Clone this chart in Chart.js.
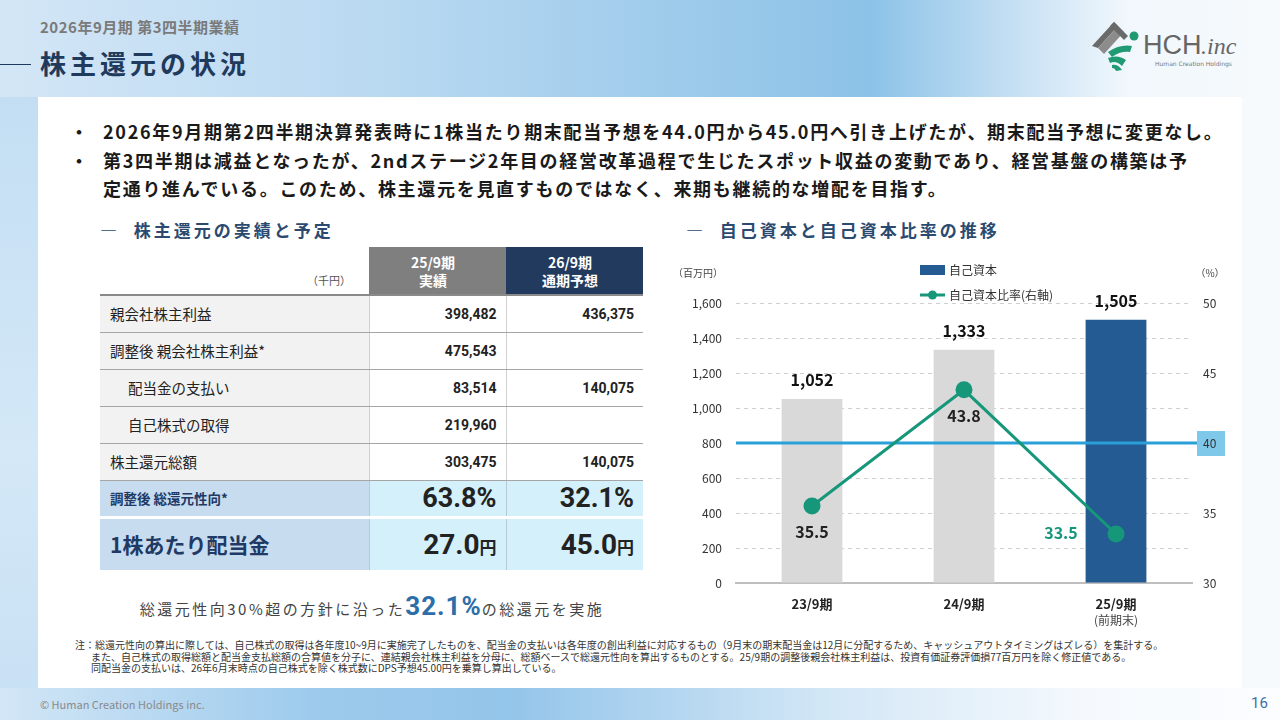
<!DOCTYPE html>
<html lang="ja">
<head>
<meta charset="utf-8">
<title>株主還元の状況</title>
<script src="https://cdn.jsdelivr.net/npm/chart.js@4.4.1/dist/chart.umd.min.js"></script>
<style>
  html, body { margin: 0; padding: 0; }
  body {
    width: 1280px; height: 720px; position: relative; overflow: hidden;
    font-family: "Noto Sans CJK JP", "Noto Sans", sans-serif;
    background: #c7e0f4;
  }
  .band-top {
    position: absolute; left: 0; top: 0; width: 1280px; height: 97px;
    background: linear-gradient(to right, #d3e6f6 0%, #b9d9f1 30%, #8cc2e7 68%, #c9e2f4 80%, #f1f7fc 88%, #f6fafd 100%);
  }
  .band-bottom {
    position: absolute; left: 0; top: 688px; width: 1280px; height: 32px;
    background: linear-gradient(to right, #d2e6f6 0%, #9ccaec 25%, #94c5ea 40%, #d3e7f6 65%, #f5f9fd 85%, #fbfdff 100%);
  }
  .band-left {
    position: absolute; left: 0; top: 97px; width: 38px; height: 591px;
    background: linear-gradient(to bottom, #c3def3, #d4e8f7 60%, #c9e1f4);
  }
  .band-right {
    position: absolute; left: 1242px; top: 97px; width: 38px; height: 591px;
    background: #f6fafd;
  }
  .panel {
    position: absolute; left: 38px; top: 97px; width: 1204px; height: 591px; background: #fff;
  }
  .sub { position: absolute; left: 40px; top: 16px; font-size: 15px; font-weight: 700; color: #7a7a7a; letter-spacing: 0.5px; }
  .title { position: absolute; left: 40px; top: 44px; font-size: 26px; font-weight: 700; color: #1f3a5c; letter-spacing: 4px; }
  .title-line { position: absolute; left: 0; top: 64px; width: 31px; height: 1px; background: #1f3a5c; }
  .bullets { position: absolute; left: 70px; top: 117px; font-size: 18px; font-weight: 700; color: #1a1a1a; line-height: 28.5px; letter-spacing: 1.7px; }
  .bullets .b { position: relative; padding-left: 33px; white-space: nowrap; }
  .bullets .b::before { content: "・"; position: absolute; left: 0; }
  .sec { position: absolute; font-size: 17px; font-weight: 700; color: #2b4a70; letter-spacing: 3px; white-space: nowrap; }
  table.ret {
    position: absolute; left: 100px; top: 247px; border-collapse: collapse; table-layout: fixed;
    font-size: 14.5px; color: #222;
  }
  table.ret td { padding: 0; height: 37px; border-bottom: 1px solid #a6a6a6; }
  table.ret td.lab { width: 269px; background: #f2f2f2; padding-left: 10px; box-sizing: border-box; }
  table.ret td.lab.ind { padding-left: 28px; }
  table.ret td.val { width: 137px; text-align: right; padding-right: 9px; box-sizing: border-box; font-weight: 700; border-left: 1px solid #d0d0d0; font-family: Roboto, "Noto Sans CJK JP", sans-serif; font-size: 14px; }
  table.ret tr.head td { height: 48px; border-bottom: 2px solid #8a8a8a; }
  table.ret tr.head td.unit { background: #fff; text-align: right; padding-right: 18px; font-size: 11px; color: #555; vertical-align: bottom; padding-bottom: 6px; }
  table.ret tr.head td.h1 { background: #7f7f7f; color: #fff; text-align: center; font-weight: 700; line-height: 18px; border-left: none; font-family: "Noto Sans CJK JP", sans-serif; }
  table.ret tr.head td.h2 { background: #223a5e; color: #fff; text-align: center; font-weight: 700; line-height: 18px; border-left: none; font-family: "Noto Sans CJK JP", sans-serif; }
  table.ret tr.hl td { border-bottom: 3px solid #fff; }
  table.ret tr.hl td.lab { background: #c8dcf0; color: #1f3a64; font-weight: 700; }
  table.ret tr.hl td.val { background: #d3f0fb; font-size: 27px; border-left: 1px solid #b8c8d4; }
  table.ret tr.hl.r1 td { height: 37px; }
  table.ret tr.hl.r1 td.lab { font-size: 13.5px; }
  table.ret tr.hl.r2 td { height: 53px; border-bottom: none; }
  table.ret tr.hl.r2 td.lab { font-size: 21px; }
  table.ret tr.hl.r2 td.val { font-size: 28px; }
  table.ret tr.hl.r2 td.val small { font-size: 17px; }
  .caption { position: absolute; left: 100px; width: 544px; top: 591px; text-align: center; color: #444; font-size: 15px; letter-spacing: 2.5px; white-space: nowrap; }
  .caption b { font-size: 26px; color: #2d6eaa; letter-spacing: 1px; font-family: Roboto, sans-serif; }
  .notes { position: absolute; left: 75px; top: 639px; font-size: 10px; color: #333; line-height: 11.5px; white-space: nowrap; }
  .notes div.c { padding-left: 16px; }
  .copy { position: absolute; left: 40px; top: 696px; font-size: 11px; color: #8a8a8a; }
  .page { position: absolute; left: 1251px; top: 694px; font-size: 15px; color: #3f6fa6; font-family: Roboto, sans-serif; }
  .chartbox { position: absolute; left: 680px; top: 258px; width: 560px; height: 372px; }
  .logo { position: absolute; left: 1088px; top: 16px; }
</style>
</head>
<body>
<div class="band-top"></div>
<div class="band-bottom"></div>
<div class="band-left"></div>
<div class="band-right"></div>
<div class="panel"></div>

<div class="sub">2026年9月期 第3四半期業績</div>
<div class="title-line"></div>
<div class="title">株主還元の状況</div>

<svg class="logo" width="172" height="56" viewBox="0 0 172 56">
  <polygon points="4,30 26,6 30,10 10,32" fill="#6a6a6a"/>
  <polygon points="10,32 30,10 36,16 16,38" fill="#8c8c8c"/>
  <polygon points="26,6 40,20 36,24 22,10" fill="#6a6a6a"/>
  <path d="M20,36 Q32,28 44,30 L42,36 Q32,35 24,41 Z" fill="#1f9a73"/>
  <path d="M20,42 Q30,38 38,44 L34,50 Q28,44 22,47 Z" fill="#1f9a73"/>
  <path d="M24,49 Q30,48 34,54 L28,55 Q27,52 24,52 Z" fill="#1f9a73"/>
  <circle cx="46" cy="20" r="4.5" fill="#1f9a73"/>
  <text x="55" y="38" font-family="Liberation Sans, Arial, sans-serif" font-size="27" fill="#666">HCH</text>
  <text x="113" y="38" font-family="Liberation Serif, serif" font-style="italic" font-size="24" fill="#666">.inc</text>
  <text x="67" y="50" font-family="DejaVu Sans, sans-serif" font-size="6" fill="#777">Human Creation Holdings</text>
</svg>

<div class="bullets">
  <div class="b">2026年9月期第2四半期決算発表時に1株当たり期末配当予想を44.0円から45.0円へ引き上げたが、期末配当予想に変更なし。</div>
  <div class="b">第3四半期は減益となったが、2ndステージ2年目の経営改革過程で生じたスポット収益の変動であり、経営基盤の構築は予<br>定通り進んでいる。このため、株主還元を見直すものではなく、来期も継続的な増配を目指す。</div>
</div>

<div class="sec" style="left:100px; top:217px;">—&nbsp;&nbsp;株主還元の実績と予定</div>
<div class="sec" style="left:686px; top:217px;">—&nbsp;&nbsp;自己資本と自己資本比率の推移</div>

<table class="ret" id="ret"></table>

<div class="caption">総還元性向30%超の方針に沿った<b>32.1%</b>の総還元を実施</div>

<div class="chartbox"><canvas id="c"></canvas></div>

<div class="notes">
  <div>注：総還元性向の算出に際しては、自己株式の取得は各年度10~9月に実施完了したものを、配当金の支払いは各年度の創出利益に対応するもの（9月末の期末配当金は12月に分配するため、キャッシュアウトタイミングはズレる）を集計する。</div>
  <div class="c">また、自己株式の取得総額と配当金支払総額の合算値を分子に、連結親会社株主利益を分母に、総額ベースで総還元性向を算出するものとする。25/9期の調整後親会社株主利益は、投資有価証券評価損77百万円を除く修正値である。</div>
  <div class="c">同配当金の支払いは、26年6月末時点の自己株式を除く株式数にDPS予想45.00円を乗算し算出している。</div>
</div>

<div class="copy">© Human Creation Holdings inc.</div>
<div class="page">16</div>

<script>
// ---- table data ----
const tableLabels = ['親会社株主利益', '調整後 親会社株主利益*', '配当金の支払い', '自己株式の取得', '株主還元総額'];
const tableIndented = [false, false, true, true, false];
const actual2509 = ['398,482', '475,543', '83,514', '219,960', '303,475'];
const forecast2609 = ['436,375', '', '140,075', '', '140,075'];
const payoutRatio = ['63.8%', '32.1%'];
const dividendPerShare = ['27.0', '45.0'];

// ---- chart data ----
const categories = ['23/9期', '24/9期', '25/9期'];
const categoryNotes = ['', '', '(前期末)'];
const equity = [1052, 1333, 1505];          // 百万円
const equityRatio = [35.5, 43.8, 33.5];     // %
const equityTicks = [0, 1600, 200];         // min, max, step
const ratioTicks = [30, 50, 5];
const ratioTarget = 40;

// build table
(function () {
  const t = document.getElementById('ret');
  let html = '<tr class="head"><td class="lab unit">（千円）</td>' +
    '<td class="val h1">25/9期<br>実績</td><td class="val h2">26/9期<br>通期予想</td></tr>';
  tableLabels.forEach((lab, i) => {
    html += '<tr><td class="lab' + (tableIndented[i] ? ' ind' : '') + '">' + lab + '</td>' +
      '<td class="val">' + actual2509[i] + '</td><td class="val">' + forecast2609[i] + '</td></tr>';
  });
  html += '<tr class="hl r1"><td class="lab">調整後 総還元性向*</td><td class="val">' + payoutRatio[0] +
    '</td><td class="val">' + payoutRatio[1] + '</td></tr>';
  html += '<tr class="hl r2"><td class="lab">1株あたり配当金</td><td class="val">' + dividendPerShare[0] +
    '<small>円</small></td><td class="val">' + dividendPerShare[1] + '<small>円</small></td></tr>';
  t.innerHTML = html;
})();

const FONT = '"Noto Sans CJK JP", "Noto Sans", sans-serif';
Chart.defaults.font.family = FONT;
Chart.defaults.color = '#333';

const barColors = ['#d9d9d9', '#d9d9d9', '#235b92'];
const lineColor = '#17977a';

// target line at 40% + the box behind the right tick
const targetLine = {
  id: 'targetLine',
  beforeDraw(chart) {
    const { ctx, chartArea, scales } = chart;
    const y = scales.y1.getPixelForValue(ratioTarget);
    ctx.save();
    ctx.fillStyle = '#7fc8ea';
    ctx.fillRect(chartArea.right + 5, y - 12, 28, 25);
    ctx.restore();
  },
  afterDatasetDraw(chart, args) {
    if (args.index !== 0) return;
    const { ctx, chartArea, scales } = chart;
    const y = scales.y1.getPixelForValue(ratioTarget);
    ctx.save();
    ctx.strokeStyle = '#2a9fd8';
    ctx.lineWidth = 3;
    ctx.beginPath();
    ctx.moveTo(chartArea.left, y);
    ctx.lineTo(chartArea.right + 5, y);
    ctx.stroke();
    ctx.restore();
  }
};

// value labels, axis units, legend, sub-label under category
const extras = {
  id: 'extras',
  afterDraw(chart) {
    const { ctx, chartArea, scales } = chart;
    ctx.save();
    // bar values
    const barMeta = chart.getDatasetMeta(0);
    ctx.font = 'bold 16px ' + FONT;
    ctx.fillStyle = '#111';
    ctx.textAlign = 'center';
    ctx.textBaseline = 'middle';
    barMeta.data.forEach((el, i) => {
      ctx.fillText(equity[i].toLocaleString('en-US'), el.x, el.y - 19);
    });
    // line values
    const lineMeta = chart.getDatasetMeta(1);
    lineMeta.data.forEach((el, i) => {
      const txt = equityRatio[i].toFixed(1);
      if (i === equityRatio.length - 1) {
        ctx.fillStyle = lineColor;
        ctx.fillText(txt, el.x - 55, el.y - 1);
      } else {
        ctx.fillStyle = '#222';
        ctx.fillText(txt, el.x, el.y + 26);
      }
    });
    // sub notes under categories
    ctx.font = '12px ' + FONT;
    ctx.fillStyle = '#444';
    categoryNotes.forEach((n, i) => {
      if (n) ctx.fillText(n, scales.x.getPixelForValue(i), chartArea.bottom + 37);
    });
    // axis units
    ctx.font = '10px ' + FONT;
    ctx.fillStyle = '#444';
    ctx.fillText('（百万円）', scales.y.left + 18, chartArea.top - 30);
    ctx.fillText('（%）', scales.y1.left + 18, chartArea.top - 30);
    // legend
    const lx = 240, ly = 12;
    ctx.textAlign = 'left';
    ctx.font = '12px ' + FONT;
    ctx.fillStyle = barColors[2];
    ctx.fillRect(lx, ly - 5, 25, 10);
    ctx.fillStyle = '#333';
    ctx.fillText(chart.data.datasets[0].label, lx + 29, ly);
    ctx.strokeStyle = lineColor;
    ctx.lineWidth = 3;
    ctx.beginPath();
    ctx.moveTo(lx, ly + 25);
    ctx.lineTo(lx + 25, ly + 25);
    ctx.stroke();
    ctx.fillStyle = lineColor;
    ctx.beginPath();
    ctx.arc(lx + 12.5, ly + 25, 4.5, 0, Math.PI * 2);
    ctx.fill();
    ctx.fillStyle = '#333';
    ctx.fillText(chart.data.datasets[1].label, lx + 29, ly + 25);
    ctx.restore();
  }
};

new Chart(document.getElementById('c'), {
  type: 'bar',
  data: {
    labels: categories,
    datasets: [
      {
        label: '自己資本',
        data: equity,
        backgroundColor: barColors,
        yAxisID: 'y',
        barPercentage: 0.4,
        categoryPercentage: 1,
        order: 2
      },
      {
        type: 'line',
        label: '自己資本比率(右軸)',
        data: equityRatio,
        yAxisID: 'y1',
        borderColor: lineColor,
        backgroundColor: lineColor,
        borderWidth: 3,
        pointRadius: 7,
        pointHoverRadius: 7,
        tension: 0,
        order: 1
      }
    ]
  },
  options: {
    responsive: true,
    maintainAspectRatio: false,
    animation: false,
    layout: { padding: { top: 45, left: 0, right: 0, bottom: 0 }, autoPadding: false },
    plugins: { legend: { display: false }, tooltip: { enabled: false } },
    scales: {
      x: {
        grid: { display: false, drawTicks: false },
        border: { display: true, color: '#bfbfbf', width: 2 },
        ticks: { font: { size: 13, weight: 'bold' }, color: '#222', padding: 13 },
        afterFit(s) { s.height = 47; }
      },
      y: {
        position: 'left',
        min: equityTicks[0], max: equityTicks[1],
        ticks: {
          stepSize: equityTicks[2], padding: 14, font: { size: 12 }, color: '#333',
          callback: v => v.toLocaleString('en-US')
        },
        grid: { color: '#cfcfcf', lineWidth: 1, drawTicks: false },
        border: { display: false, dash: [4, 4] },
        afterFit(s) { s.width = 56; }
      },
      y1: {
        position: 'right',
        min: ratioTicks[0], max: ratioTicks[1],
        ticks: { stepSize: ratioTicks[2], padding: 11, font: { size: 12 }, color: '#333' },
        grid: { display: false, drawTicks: false },
        border: { display: false },
        afterFit(s) { s.width = 48; }
      }
    }
  },
  plugins: [targetLine, extras]
});
</script>
</body>
</html>
